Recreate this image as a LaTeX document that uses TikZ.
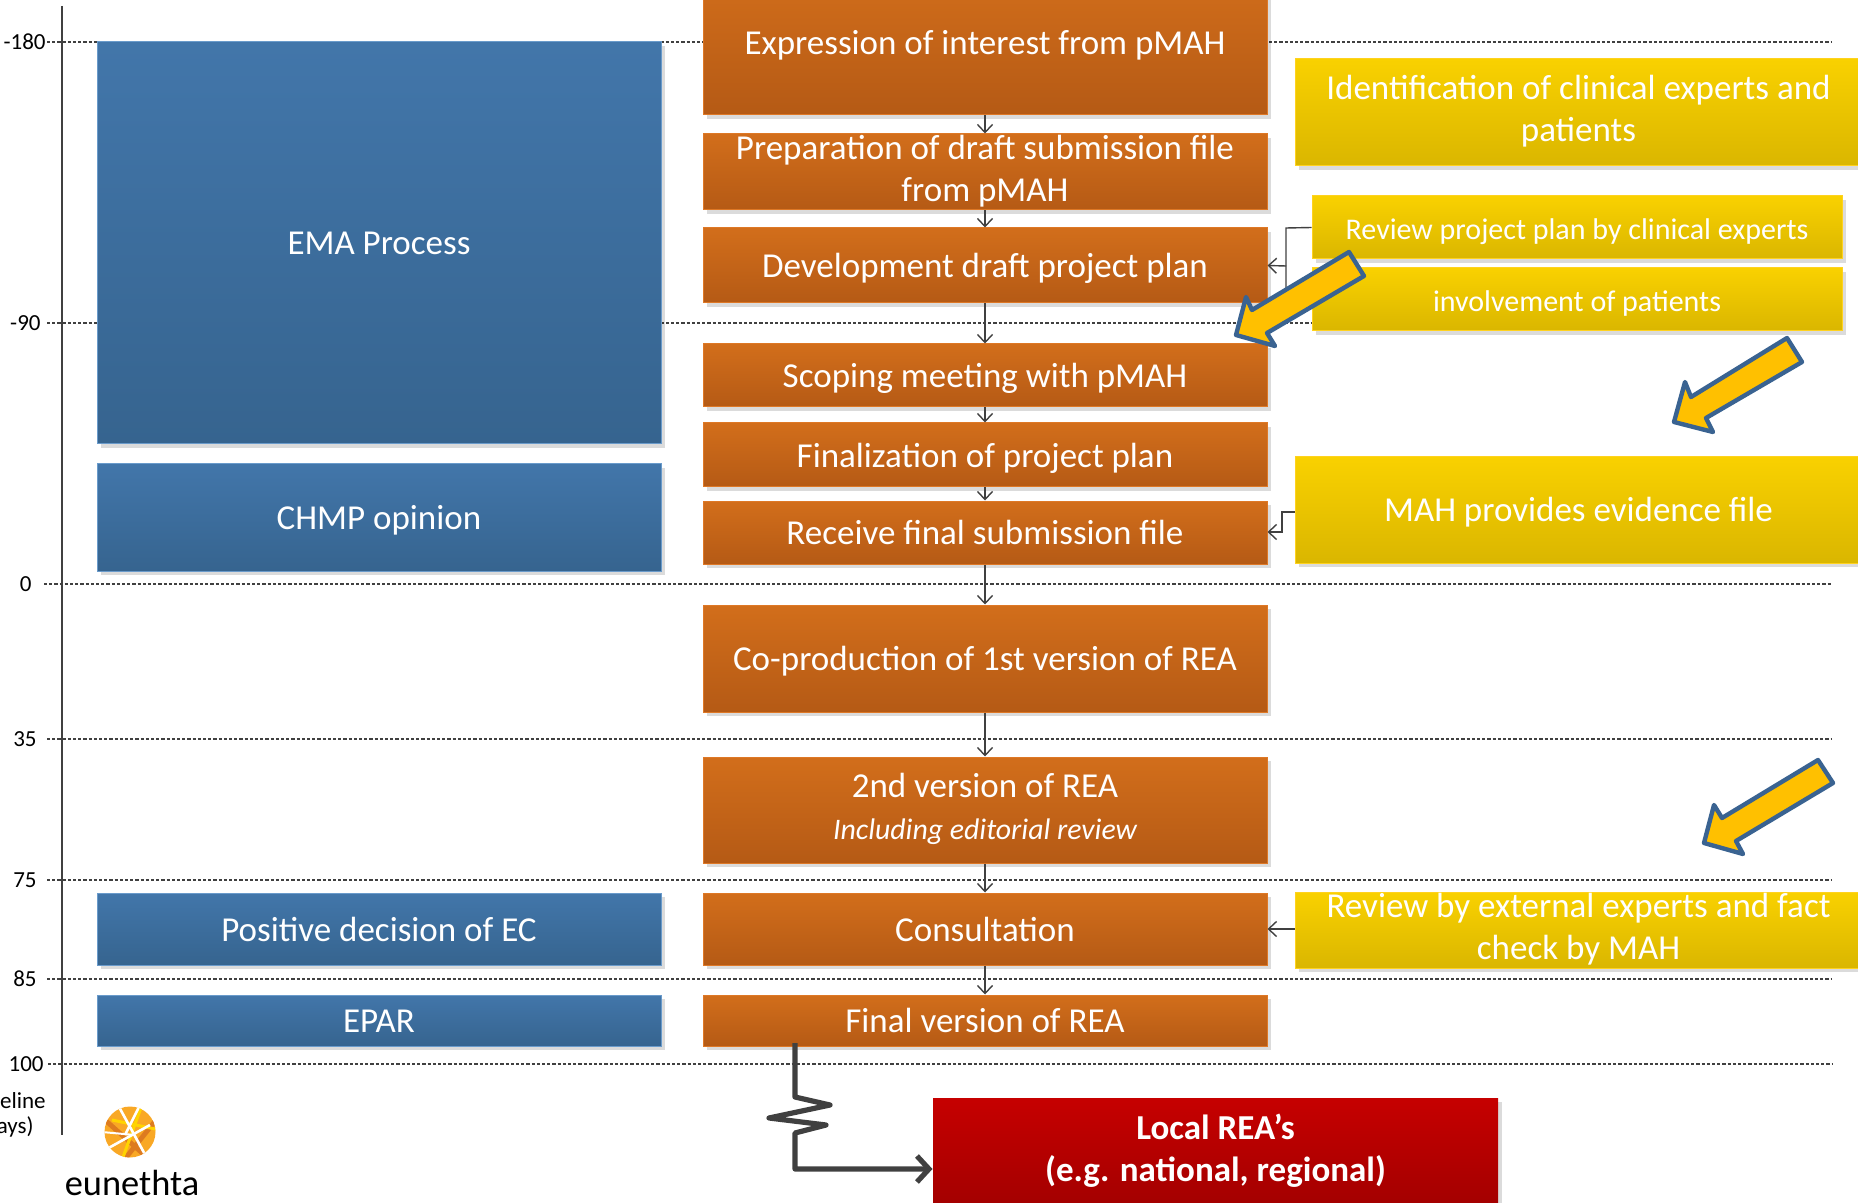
\documentclass[tikz,border=0pt]{standalone}
\usepackage{fontspec}
\setmainfont{Carlito}
\usetikzlibrary{arrows.meta,shadows,calc}
\definecolor{dk}{HTML}{404040}
\definecolor{bluetop}{HTML}{4276AA}
\definecolor{bluebot}{HTML}{36648F}
\definecolor{blueedge}{HTML}{6A9BCB}
\definecolor{ortop}{HTML}{D26E1B}
\definecolor{orbot}{HTML}{B55A15}
\definecolor{oredge}{HTML}{DE7826}
\definecolor{yetop}{HTML}{F9D100}
\definecolor{yebot}{HTML}{DAB600}
\definecolor{yeedge}{HTML}{FFD21E}
\definecolor{redtop}{HTML}{C60000}
\definecolor{redbot}{HTML}{A30000}
\definecolor{arrowfill}{HTML}{FFC000}
\definecolor{arrowedge}{HTML}{3A6391}
\definecolor{logoa}{HTML}{F9A825}
\definecolor{logob}{HTML}{DD7B1F}
\definecolor{logoc}{HTML}{FFD400}
\newcommand{\bigtext}{\fontsize{17.5}{21}\selectfont}
\newcommand{\midtext}{\fontsize{14.9}{21}\selectfont}
\newcommand{\smalltext}{\fontsize{15}{17}\selectfont}
\newcommand{\ticktext}{\fontsize{11.5}{14}\selectfont}
\newcommand{\topstrut}{\rule{0pt}{16pt}}
\newcommand{\botstrut}{\rule[-4pt]{0pt}{4pt}}
\tikzset{
 boxbase/.style={rectangle,inner sep=0pt,line width=0.5pt,text=white,align=center,
   execute at begin node=\topstrut,execute at end node=\botstrut,
   drop shadow={shadow xshift=1.8pt,shadow yshift=-1.8pt,opacity=0.14,fill=black}},
 bluebox/.style={boxbase,draw=blueedge,top color=bluetop,bottom color=bluebot,font=\bigtext},
 orbox/.style={boxbase,draw=oredge,top color=ortop,bottom color=orbot,font=\bigtext},
 yebox/.style={boxbase,draw=yeedge,top color=yetop,bottom color=yebot,font=\bigtext},
 yesmall/.style={boxbase,draw=yeedge,top color=yetop,bottom color=yebot,font=\smalltext},
 redbox/.style={boxbase,draw=none,top color=redtop,bottom color=redbot,font=\bigtext\bfseries},
 tick/.style={anchor=east,inner sep=0pt,text=black,font=\ticktext},
 dotline/.style={dk,line width=1pt,dash pattern=on 1.6pt off 1pt},
 axisline/.style={dk,line width=1pt},
 conn/.style={dk,line width=0.7pt,-{Straight Barb[length=4pt,width=7.5pt]}},
 connplain/.style={dk,line width=0.7pt},
 fatconn/.style={dk,line width=2.6pt,line join=round,-{Straight Barb[length=6pt,width=13pt]}},
 fatarrow/.style={draw=arrowedge,fill=arrowfill,line width=2.2pt,line join=round},
}
\newcommand{\bx}[7]{\path let \n1={(#3+#5)/2}, \n2={(#4+#6)/2}, \n3={(#5-#3)*0.5}, \n4={(#6-#4)*0.5} in
  node[#2,minimum width=\n3 pt,minimum height=\n4 pt] (#1) at (\n1,\n2) {#7};}
\begin{document}
\begin{tikzpicture}[x=0.5pt,y=-0.5pt]
\useasboundingbox (0,0) rectangle (1858,1203);
\clip (0,0) rectangle (1858,1203);
% time ticks
\node[tick] (t1) at (46,42) {-180};
\node[tick] (t2) at (41,323) {-90};
\node[tick] (t3) at (32,584) {0};
\node[tick] (t4) at (37,739) {35};
\node[tick] (t5) at (37,880) {75};
\node[tick] (t6) at (37,979) {85};
\node[tick] (t7) at (44,1064) {100};
\node[tick] (t8) at (46,1101) {eline};
\node[tick] (t9) at (34,1127) {ays)};
\foreach \n/\xs/\yy in {1/47/42,2/47/323,3/44/584,4/47/739,5/47/880,6/47/979,7/48/1064}{
  \coordinate (a\n) at (\xs,\yy);
  \coordinate (l\n) at (1832,\yy);
  \draw[dotline] (a\n) -- (l\n);
}
\coordinate (axT) at (62,6);
\coordinate (axB) at (62,1135);
\draw[axisline] (axT) -- (axB);
% blue
\bx{ema}{bluebox}{97}{42}{661}{444}{EMA Process}
\bx{chmp}{bluebox}{97}{464}{661}{571}{CHMP opinion}
\bx{pos}{bluebox}{97}{893}{661}{965}{Positive decision of EC}
\bx{epar}{bluebox}{97}{995}{661}{1046}{EPAR}
% orange
\bx{o1}{orbox}{703}{-29}{1267}{115}{Expression of interest from pMAH}
\bx{o2}{orbox}{703}{134}{1267}{210}{Preparation of draft submission file\\from pMAH}
\bx{o3}{orbox}{703}{228}{1267}{303}{Development draft project plan}
\bx{o4}{orbox}{703}{344}{1267}{407}{Scoping meeting with pMAH}
\bx{o5}{orbox}{703}{423}{1267}{487}{Finalization of project plan}
\bx{o6}{orbox}{703}{501}{1267}{564}{Receive final submission file}
\bx{o7}{orbox}{703}{605}{1267}{712}{Co-production of 1st version of REA}
\bx{o8}{orbox}{703}{757}{1267}{863}{2nd version of REA\\{\midtext\itshape Including editorial review}}
\bx{o9}{orbox}{703}{893}{1267}{965}{Consultation}
\bx{o10}{orbox}{703}{995}{1267}{1046}{Final version of REA}
% yellow
\bx{y1}{yebox}{1295}{59}{1862}{166}{Identification of clinical experts and\\patients}
\bx{s1}{yesmall}{1312}{196}{1842}{259}{Review project plan by clinical experts}
\bx{s2}{yesmall}{1312}{268}{1842}{331}{involvement of patients}
\bx{y2}{yebox}{1295}{457}{1862}{563}{MAH provides evidence file}
\bx{y3}{yebox}{1295}{892}{1862}{968}{Review by external experts and fact\\check by MAH}
% red
\bx{r1}{redbox}{933}{1098}{1498}{1206}{Local REA’s\\(e.g. national, regional)}
% vertical connectors
\foreach \a/\b in {o1/o2,o2/o3,o3/o4,o4/o5,o5/o6,o6/o7,o7/o8,o8/o9,o9/o10}
  \draw[conn] (\a.south) -- (\b.north);
% side connectors
\coordinate (j1) at (1286,228);
\coordinate (j2) at (1286,266);
\coordinate (j3) at (1286,300);
\draw[connplain] (s1.west) -- (j1) -- (j2);
\draw[connplain] (s2.west) -- (j3) -- (j2);
\draw[conn] (j2) -- (o3.east);
\coordinate (m1) at (1282,512);
\coordinate (m2) at (1282,532);
\draw[conn] (y2.west |- m1) -- (m1) -- (m2) -- (o6.east |- m2);
\draw[conn] (y3.west |- o9.east) -- (o9.east);
% zigzag
\coordinate (z0) at (795,1043);
\coordinate (z1) at (795,1097);
\coordinate (z2) at (830,1105);
\coordinate (z3) at (769,1118);
\coordinate (z4) at (826,1125);
\coordinate (z5) at (795,1133);
\coordinate (z6) at (795,1169);
\draw[fatconn] (z0) -- (z1) -- (z2) -- (z3) -- (z4) -- (z5) -- (z6) -- (r1.west |- z6);
% fat arrows
\draw[fatarrow] (1349,252) -- (1364,276) -- (1267,333) -- (1275,346) -- (1236,335) -- (1246,297) -- (1252,310) -- cycle;
\draw[fatarrow] (1787,338) -- (1802,362) -- (1706,418) -- (1713,432) -- (1674,422) -- (1685,382) -- (1691,397) -- cycle;
\draw[fatarrow] (1818,760) -- (1833,783) -- (1736,841) -- (1743,854) -- (1704,843) -- (1714,805) -- (1722,818) -- cycle;
% logo
\begin{scope}
\clip (130,1132) circle [radius=25.5];
\fill[logoa] (100,1100) rectangle (160,1165);
\draw[logob,line width=2.4pt] (105,1120) -- (150,1160);
\draw[logob,line width=2.4pt] (120,1165) -- (160,1115);
\draw[logoc,line width=1.5pt] (112,1120) -- (160,1130);
\draw[logoc,line width=1.5pt] (122,1160) -- (142,1105);
\draw[white,line width=1.3pt] (105,1150) -- (150,1125);
\draw[white,line width=1.3pt] (118,1105) -- (148,1160);
\draw[white,line width=1.3pt] (125,1135) -- (140,1105);
\draw[white,line width=1.0pt] (102,1132) -- (135,1135);
\end{scope}
\node[inner sep=0pt,text=black,font=\fontsize{18.2}{20}\selectfont] (logotxt) at (132,1183) {eunethta};
\end{tikzpicture}
\end{document}
